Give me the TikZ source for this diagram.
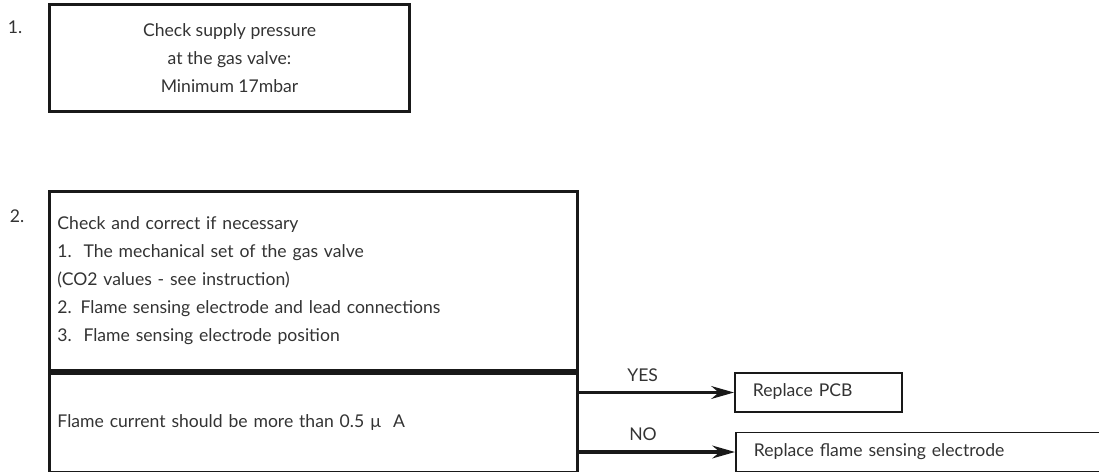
\documentclass[tikz,border=0pt]{standalone}
\usepackage{fontspec}
\setmainfont{Lato}
\usetikzlibrary{arrows.meta,positioning}

\begin{document}
\begin{tikzpicture}[
    x=0.025cm, y=-0.025cm,
    font=\fontsize{12.5}{20}\selectfont,
    node distance=0 and 0,
    box/.style={rectangle, draw=black!90, line width=2.1pt, text=black!80, inner sep=0pt},
    leaf/.style={rectangle, draw=black!90, line width=1.4pt, text=black!80, anchor=west, minimum height=0.975cm, inner xsep=0.45cm, align=left, text height=1.6ex, text depth=0.4ex},
    num/.style={text=black!80, inner sep=0pt},
    arrow/.style={-{Stealth[length=16pt, width=9pt]}, line width=2.8pt, draw=black!90}
]
\useasboundingbox (0,0) rectangle (1099,472);

% step 1
\node[box, anchor=north west, minimum width=9cm, minimum height=2.675cm, align=center] (supply) at (48,3)
    {Check supply pressure\\at the gas valve:\\Minimum 17mbar};
\node[num] (n1) at (15,27) {1.};

% step 2
\node[box, anchor=north west, minimum width=13.2cm, minimum height=4.475cm, align=left, text width=12.8cm, inner xsep=0.2cm, yshift=0.08cm] (check) at (48,193)
    {Check and correct if necessary\\
     1.\ \ The mechanical set of the gas valve\\
     (CO2 values - see instruction)\\
     2. Flame sensing electrode and lead connections\\
     3.\ \ Flame sensing electrode position};
\node[box, below=0 of check, minimum width=13.2cm, minimum height=2.475cm, align=left, text width=12.8cm, inner xsep=0.2cm] (current)
    {Flame current should be more than 0.5 µ~ A};
\node[num] (n2) at (17,216) {2.};

\node[leaf, text width=3.275cm] (pcb) at (734,392.5) {Replace PCB};
\node[leaf, text width=8.4cm] (electrode) at (735,452) {Replace flame sensing electrode};

\draw[arrow] (current.east |- pcb.west) -- node[pos=0.41, above=3pt, text=black!80] {YES} (pcb.west);
\draw[arrow] (current.east |- electrode.west) -- node[pos=0.41, above=3pt, text=black!80] {NO} (electrode.west);
\end{tikzpicture}
\end{document}
